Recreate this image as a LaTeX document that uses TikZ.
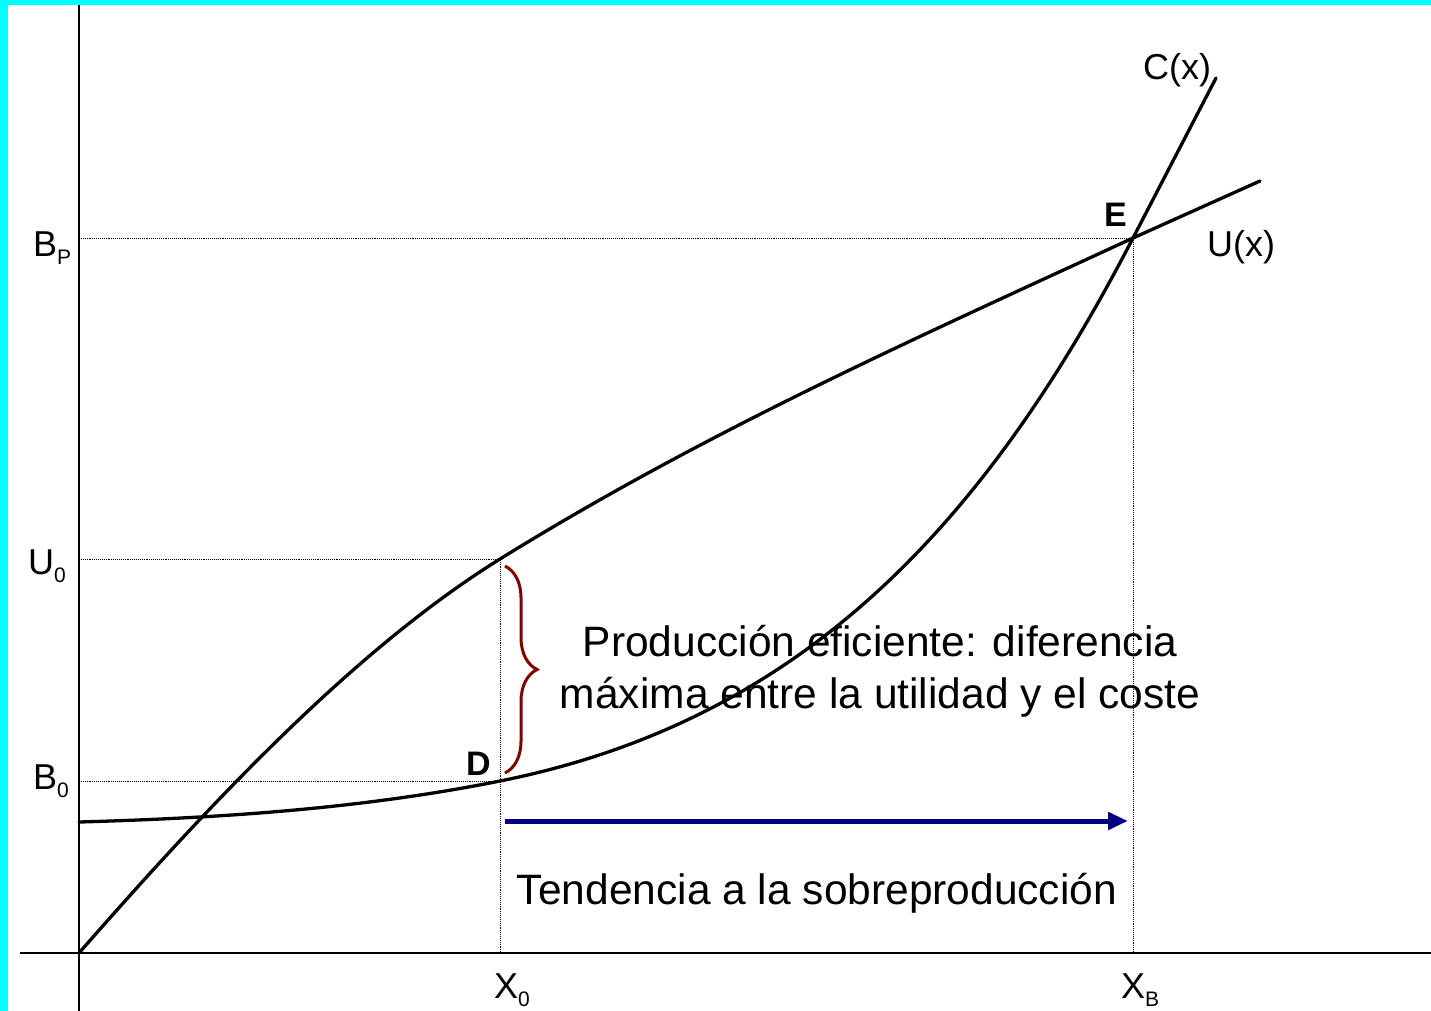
\documentclass[tikz,border=0pt]{standalone}
\usepackage{fontspec}
\setmainfont{Liberation Sans}
\usetikzlibrary{decorations.pathreplacing,arrows.meta}
\definecolor{framecyan}{RGB}{0,255,255}
\definecolor{bracered}{RGB}{128,0,0}
\definecolor{arrownavy}{RGB}{0,0,128}
\newcommand{\sbx}[1]{\raisebox{-8pt}{\fontsize{21}{21}\selectfont #1}}
\begin{document}
\begin{tikzpicture}[x=1pt,y=-1pt,
  curve/.style={line width=3.3pt, line cap=round, line join=round},
  axisline/.style={line width=2pt},
  guide/.style={line width=0.9pt, densely dotted},
  lbl/.style={font=\fontsize{36}{40}\selectfont, inner sep=0pt, anchor=base west},
  pt/.style={font=\fontsize{34}{40}\selectfont\bfseries, inner sep=0pt, anchor=base west},
  txt/.style={font=\fontsize{42.5}{52}\selectfont, inner sep=0pt, anchor=base}]
\useasboundingbox (0,0) rectangle (1431,1011);
\fill[white] (0,0) rectangle (1431,1011);
\fill[framecyan] (0,0) rectangle (8,1011);
\fill[framecyan] (0,0) rectangle (1431,5);

% key coordinates
\coordinate (O) at (79,953);
\coordinate (ytop) at (79,5);
\coordinate (ybot) at (79,1011);
\coordinate (xl) at (20,953);
\coordinate (xr) at (1431,953);
\coordinate (X0) at (500,953);
\coordinate (XB) at (1133,953);
\coordinate (Upt) at (500,559);
\coordinate (Dpt) at (500,781);
\coordinate (Ept) at (1133,238);
\coordinate (yBP) at (79,238);
\coordinate (yU0) at (79,559);
\coordinate (yB0) at (79,781);
\coordinate (C0) at (79,822);

% axes
\draw[axisline] (ytop) -- (ybot);
\draw[axisline] (xl) -- (xr);

% guides
\draw[guide] (yBP) -- (Ept) -- (XB);
\draw[guide] (yU0) -- (Upt) -- (X0);
\draw[guide] (yB0) -- (Dpt);

% U(x)
\draw[curve] (O) .. controls (219,793) and (360,646) .. (Upt)
  .. controls (710,429) and (923,335) .. (Ept) -- (1260,181);

% C(x)
\draw[curve] (C0) .. controls (219,818) and (360,809) .. (Dpt)
  .. controls (800,721) and (983,528) .. (Ept) -- (1216,78);

% brace
\draw[bracered, line width=3pt, decorate, decoration={brace, amplitude=32pt}] (505,566) -- (505,773);

% arrow
\draw[arrownavy, line width=5pt, -{Triangle[length=20pt,width=17pt]}] (505,821) -- (1128,821);

% labels
\node[lbl] (lBP) at (33,256) {B\sbx{P}};
\node[lbl] (lU0) at (28,574) {U\sbx{0}};
\node[lbl] (lB0) at (33,789) {B\sbx{0}};
\node[lbl] (lX0) at (494,998) {X\sbx{0}};
\node[lbl] (lXB) at (1121,998) {X\sbx{B}};
\node[lbl] (lC) at (1143,80) {C(x)};
\node[lbl] (lU) at (1207,256) {U(x)};
\node[pt] (lE) at (1104,226) {E};
\node[pt] (lD) at (466,775) {D};

\node[txt] (eff1) at (880,656) {Producción eficiente: diferencia};
\node[txt] (eff2) at (880,708) {máxima entre la utilidad y el coste};
\node[txt] (tend) at (817,904) {Tendencia a la sobreproducción};
\end{tikzpicture}
\end{document}
